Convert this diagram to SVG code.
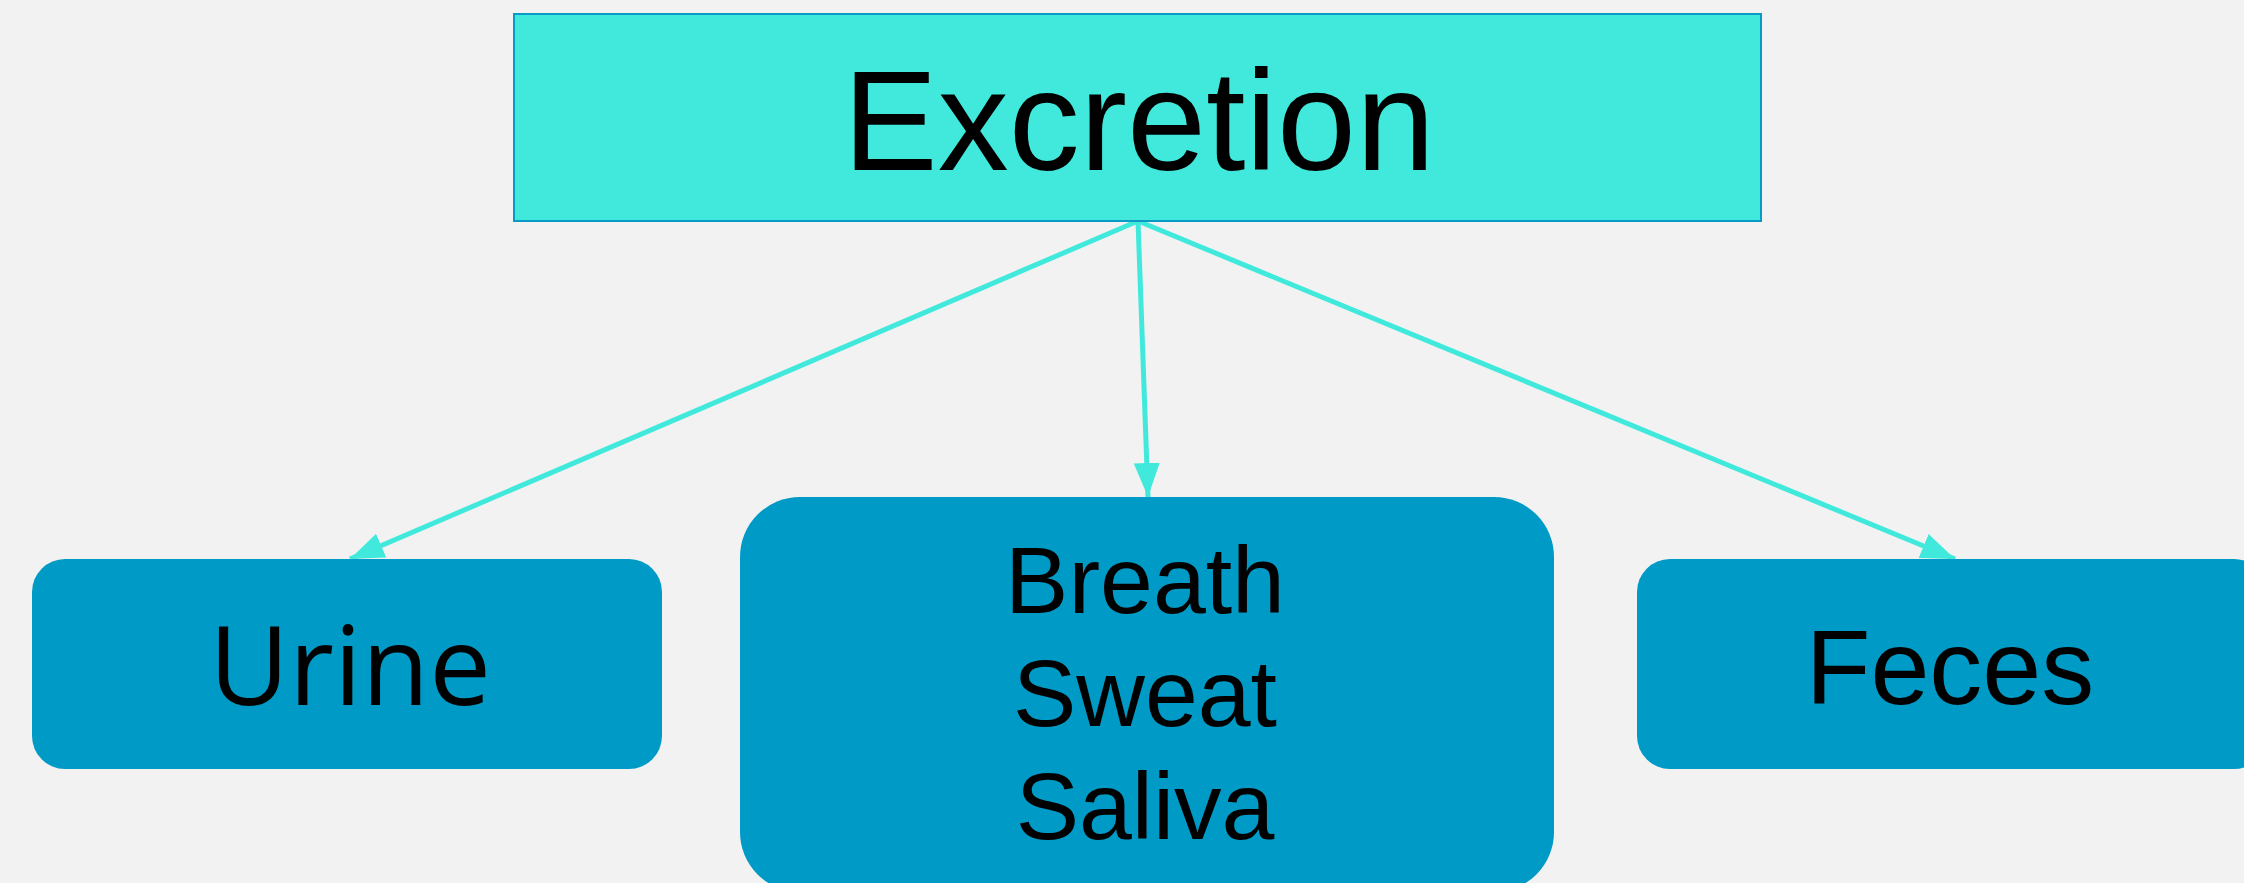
<svg xmlns="http://www.w3.org/2000/svg" width="2244" height="883" viewBox="0 0 2244 883">
<style>
.bg{fill:#f2f2f2}
.root{fill:#41e9dc;stroke:#0a9ac6;stroke-width:2}
.child{fill:#009ac6}
.t{font-family:"Liberation Sans",Arial,sans-serif;fill:#000;text-anchor:middle}
.u{font-family:"Open Sans","Noto Sans",sans-serif;fill:#000;text-anchor:middle}
.edge{stroke:#41e9dc;stroke-width:5;fill:none;marker-end:url(#arr)}
</style>
<defs>
<marker id="arr" markerUnits="userSpaceOnUse" markerWidth="38" markerHeight="30" refX="34" refY="13" orient="auto">
<path d="M0,0 L34,13 L0,26 z" fill="#41e9dc"/>
</marker>
</defs>
<rect class="bg" x="0" y="0" width="2244" height="883"/>
<g id="connectors">
<line class="edge" x1="1138" y1="221" x2="350" y2="559"/>
<line class="edge" x1="1138" y1="221" x2="1148" y2="497"/>
<line class="edge" x1="1138" y1="221" x2="1955" y2="559"/>
</g>
<g id="excretion">
<rect class="root" x="514" y="14" width="1247" height="207"/>
<text class="t" x="1139" y="170" font-size="142">Excretion</text>
</g>
<g id="urine">
<rect class="child" x="32" y="559" width="630" height="210" rx="33" ry="33"/>
<text class="u" x="350" y="705" font-size="110">Urine</text>
</g>
<g id="breath">
<rect class="child" x="740" y="497" width="814" height="395" rx="60" ry="60"/>
<text class="t" x="1145" y="613" font-size="95">Breath</text>
<text class="t" x="1145" y="726" font-size="95">Sweat</text>
<text class="t" x="1145" y="839" font-size="95">Saliva</text>
</g>
<g id="feces">
<rect class="child" x="1637" y="559" width="630" height="210" rx="33" ry="33"/>
<text class="t" x="1950" y="704" font-size="106">Feces</text>
</g>
</svg>
